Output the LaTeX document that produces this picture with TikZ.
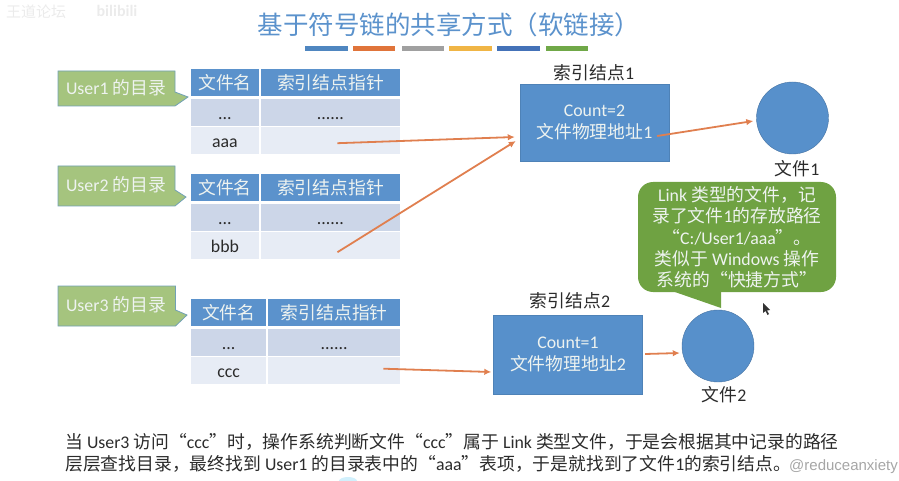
\documentclass[tikz,border=0pt]{standalone}
\usepackage{fontspec}
\setmainfont{Carlito}
\newfontfamily\cjk{Noto Sans CJK SC}
\newfontfamily\marksans{Liberation Sans}
\newcommand{\zh}[1]{{\cjk #1}}
\usetikzlibrary{arrows.meta,positioning}
\definecolor{headblue}{HTML}{5B92CC}
\definecolor{rowdark}{HTML}{CCD6E8}
\definecolor{rowlight}{HTML}{E7ECF5}
\definecolor{boxblue}{HTML}{5790CB}
\definecolor{tipgreen}{HTML}{6FA242}
\definecolor{labelgreen}{HTML}{A5C47E}
\definecolor{linkorange}{HTML}{E07F4F}
\definecolor{softwhite}{HTML}{EEF3F0}
\definecolor{inktext}{HTML}{2B2B2B}

\begin{document}
\begin{tikzpicture}[
  x=1pt, y=-1pt,
  font=\fontsize{17.8}{21.3}\selectfont,
  cell/.style={anchor=north west, inner sep=0pt, text height=13pt, text depth=0pt,
    text=inktext},
  headcell/.style={cell, fill=headblue, text=softwhite},
  dotcell/.style={cell, fill=rowdark},
  leafcell/.style={cell, fill=rowlight},
  usertag/.style={draw=headblue!70!labelgreen, fill=labelgreen, line width=0.8pt},
  inode/.style={draw=boxblue!90!black, fill=boxblue, text=softwhite, align=center,
    minimum width=149pt, inner sep=0pt},
  datafile/.style={circle, draw=boxblue!80!black, fill=boxblue, minimum size=72pt, inner sep=0pt},
  caption/.style={text=inktext, inner sep=0pt},
  explainline/.style={anchor=west, text=inktext, inner sep=0pt},
  link/.style={-{Latex[length=7pt,width=6.5pt]}, draw=linkorange, line width=1.8pt},
]
\useasboundingbox (0,0) rectangle (899,481);

% faint marks in the corner
\node[text=black!8, inner sep=0pt, font=\fontsize{15}{18}\selectfont\cjk] (corner) at (36,12) {王道论坛};
\node[text=black!8, inner sep=0pt, font=\fontsize{16}{18}\selectfont\bfseries] (logo) at (117,11) {bilibili};

% title and colour bars
\node[text=headblue, font=\fontsize{25.5}{30}\selectfont\cjk, inner sep=0pt] (title) at (449,25)
  {基于符号链的共享方式（软链接）};
\foreach \xa/\xb/\barcol in {305/348/4F86C0, 353/395/E0743A, 402/444/A0A0A0,
    449/492/F0B545, 497/540/4472B8, 546/588/70A848} {
  \definecolor{barcol}{HTML}{\barcol}
  \fill[barcol] (\xa,46.5) rectangle (\xb,51);
}

% directory tags
\path[usertag] (58,71) -- (175,71) -- (175,92) -- (188,97) -- (175,106) -- (58,106) -- cycle;
\path[usertag] (58,166) -- (175,166) -- (175,190) -- (186,197) -- (175,206) -- (58,206) -- cycle;
\path[usertag] (58,286) -- (175.5,286) -- (175.5,310) -- (187,315) -- (175.5,326) -- (58,326) -- cycle;
\node[text=softwhite, inner sep=0pt] (tag1) at (116,88) {User1 \zh{的目录}};
\node[text=softwhite, inner sep=0pt] (tag2) at (116,185) {User2 \zh{的目录}};
\node[text=softwhite, inner sep=0pt] (tag3) at (116,305) {User3 \zh{的目录}};

% directory tables
\foreach \tbl/\ytop/\xsplit/\fname in {a/69/259.5/aaa, b/174/259.5/bbb, c/299/267/ccc} {
  \pgfmathsetmacro{\wname}{\xsplit-191-1}
  \pgfmathsetmacro{\wptr}{400-\xsplit-1}
  \node[headcell, minimum width=\wname pt, minimum height=27pt] (name\tbl) at (191,\ytop) {\zh{文件名}};
  \node[headcell, minimum width=\wptr pt, minimum height=27pt] (head\tbl) at (\xsplit+1,\ytop) {\zh{索引结点指针}};
  \node[dotcell, minimum width=\wname pt, minimum height=27pt] (dots\tbl) at (191,\ytop+30) {...};
  \node[dotcell, minimum width=\wptr pt, minimum height=27pt] (more\tbl) at (\xsplit+1,\ytop+30) {......};
  \node[leafcell, minimum width=\wname pt, minimum height=27pt] (file\tbl) at (191,\ytop+58) {\fname};
  \node[leafcell, minimum width=\wptr pt, minimum height=27pt] (ptr\tbl) at (\xsplit+1,\ytop+58) {};
}

% index nodes and files
\node[inode, minimum height=77pt] (inode1) at (594.5,122.5) {Count=2\\\zh{文件物理地址}1};
\node[inode, minimum height=79pt] (inode2) at (568,354.5) {Count=1\\\zh{文件物理地址}2};
\node[caption] (cap1) at (594,73) {\zh{索引结点}1};
\node[caption] (cap2) at (570,301) {\zh{索引结点}2};
\node[datafile] (file1) at (792.5,118) {};
\node[datafile] (file2) at (718,346) {};
\node[caption] (name1) at (797,169) {\zh{文件}1};
\node[caption] (name2) at (724,395) {\zh{文件}2};

% note on the link file
\fill[tipgreen, rounded corners=15pt] (638,182) rectangle (836,292);
\fill[tipgreen] (672,291) -- (721,308) -- (721,291) -- cycle;
\node[text=softwhite, align=center, inner sep=0pt] (note) at (737,237.5)
  {Link \zh{类型的文件，记}\\\zh{录了文件}1\zh{的存放路径}\\\zh{“}C:/User1/aaa\zh{”。}\\
   \zh{类似于} Windows \zh{操作}\\\zh{系统的“快捷方式”}};

% mouse pointer
\fill[black!80] (763,303) -- (763,313) -- (765.5,311) -- (767.5,315) -- (769,314) -- (767,310.5) -- (770,310) -- cycle;

% pointers
\draw[link] ([shift={(7,2.5)}]ptra.center) -- ([shift={(-5,14.5)}]inode1.west);
\draw[link] ([shift={(7,6.5)}]ptrb.center) -- ([shift={(-4,18.5)}]inode1.west);
\draw[link] ([shift={(-17,-2)}]ptrc.east) -- ([shift={(-2,17.5)}]inode2.west);
\draw[link] ([shift={(-12,13.5)}]inode1.east) -- ([shift={(-3,3)}]file1.west);
\draw[link] ([shift={(2.5,-0.5)}]inode2.east) -- ([shift={(-2,7)}]file2.west);

% explanation
\node[explainline] (explain1) at (65,442)
  {\zh{当} User3 \zh{访问“}ccc\zh{”时，操作系统判断文件“}ccc\zh{”属于} Link \zh{类型文件，于是会根据其中记录的路径}};
\node[explainline] (explain2) at (65,464)
  {\zh{层层查找目录，最终找到} User1 \zh{的目录表中的“}aaa\zh{”表项，于是就找到了文件}1\zh{的索引结点。}};
\node[anchor=east, text=black!35, inner sep=0pt, font=\fontsize{15}{20}\selectfont\marksans] (mark) at (898,467) {@reduceanxiety};
\fill[cyan!18] (348,481) ellipse (9 and 4);
\end{tikzpicture}
\end{document}
